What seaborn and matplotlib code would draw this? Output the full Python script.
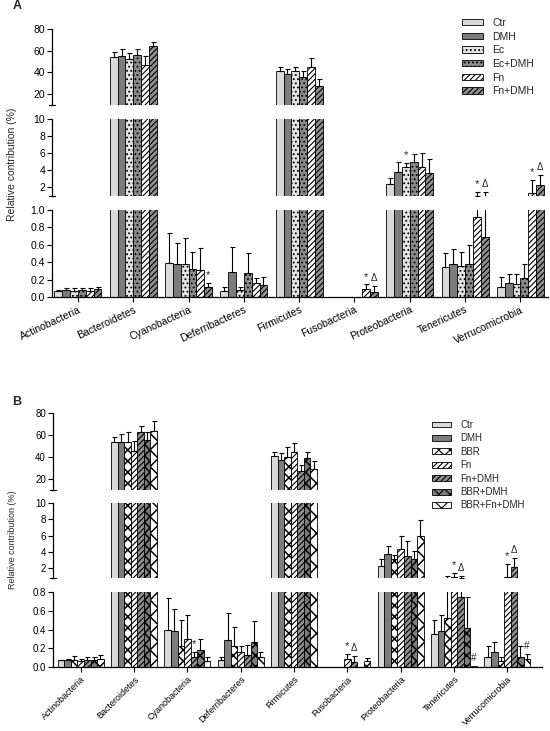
import numpy as np
import pandas as pd
import matplotlib
matplotlib.use("Agg")
import matplotlib.pyplot as plt
import seaborn as sns
from matplotlib.patches import Patch

sns.set_theme(style="white")
plt.rcParams["font.family"] = ["Liberation Sans", "DejaVu Sans"]
plt.rcParams["hatch.linewidth"] = 0.8

# ---------------- data ----------------
phyla = ["Actinobacteria", "Bacteroidetes", "Cyanobacteria", "Deferribacteres",
         "Firmicutes", "Fusobacteria", "Proteobacteria", "Tenericutes", "Verrucomicrobia"]

# Panel A
groups_a = ["Ctr", "DMH", "Ec", "Ec+DMH", "Fn", "Fn+DMH"]
a_ctr = [0.07, 54.0, 0.39, 0.07, 41.2, 0.0, 2.4, 0.35, 0.11]
a_dmh = [0.08, 55.1, 0.375, 0.29, 38.1, 0.0, 3.8, 0.38, 0.16]
a_ec = [0.07, 52.3, 0.38, 0.08, 41.2, 0.0, 4.3, 0.36, 0.15]
a_ecdmh = [0.08, 56.3, 0.32, 0.28, 35.9, 0.0, 5.0, 0.38, 0.22]
a_fn = [0.07, 46.5, 0.31, 0.165, 45.2, 0.095, 4.4, 0.92, 1.25]
a_fndmh = [0.09, 63.8, 0.12, 0.14, 27.2, 0.06, 3.6, 0.69, 2.2]

a_ctr_err = [0.01, 4.8, 0.35, 0.04, 4.0, 0.0, 0.7, 0.15, 0.12]
a_dmh_err = [0.02, 6.2, 0.245, 0.29, 5.2, 0.0, 1.1, 0.17, 0.11]
a_ec_err = [0.03, 5.3, 0.30, 0.04, 4.0, 0.0, 0.5, 0.16, 0.12]
a_ecdmh_err = [0.02, 5.3, 0.20, 0.22, 5.3, 0.0, 0.85, 0.22, 0.16]
a_fn_err = [0.03, 8.9, 0.25, 0.055, 7.8, 0.05, 1.6, 0.55, 1.55]
a_fndmh_err = [0.03, 4.6, 0.045, 0.09, 6.2, 0.07, 1.7, 0.72, 1.2]

a_marks = [("Cyanobacteria", "Fn+DMH", "*"), ("Proteobacteria", "Ec", "*"),
           ("Fusobacteria", "Fn", "*"), ("Fusobacteria", "Fn+DMH", "Δ"),
           ("Tenericutes", "Fn", "*"), ("Tenericutes", "Fn+DMH", "Δ"),
           ("Verrucomicrobia", "Fn", "*"), ("Verrucomicrobia", "Fn+DMH", "Δ")]

# Panel B
groups_b = ["Ctr", "DMH", "BBR", "Fn", "Fn+DMH", "BBR+DMH", "BBR+Fn+DMH"]
b_ctr = [0.07, 54.0, 0.39, 0.07, 40.9, 0.0, 2.25, 0.35, 0.11]
b_dmh = [0.08, 54.0, 0.38, 0.29, 37.3, 0.0, 3.7, 0.38, 0.165]
b_bbr = [0.07, 54.0, 0.22, 0.22, 40.3, 0.0, 3.1, 0.52, 0.06]
b_fn = [0.06, 45.7, 0.30, 0.16, 44.8, 0.09, 4.3, 0.9, 0.95]
b_fndmh = [0.08, 63.0, 0.11, 0.13, 27.0, 0.05, 3.5, 0.75, 2.1]
b_bbrdmh = [0.08, 55.5, 0.18, 0.27, 39.4, 0.0, 3.1, 0.42, 0.11]
b_bbrfndmh = [0.09, 64.0, 0.06, 0.11, 29.0, 0.06, 5.9, 0.01, 0.085]

b_ctr_err = [0.01, 4.6, 0.35, 0.04, 3.9, 0.0, 0.85, 0.15, 0.11]
b_dmh_err = [0.01, 6.9, 0.24, 0.29, 6.1, 0.0, 1.0, 0.17, 0.105]
b_bbr_err = [0.05, 9.0, 0.28, 0.21, 8.5, 0.0, 0.5, 0.53, 0.05]
b_fn_err = [0.03, 9.1, 0.26, 0.06, 8.2, 0.05, 1.7, 0.5, 1.55]
b_fndmh_err = [0.03, 5.5, 0.055, 0.10, 5.7, 0.07, 1.8, 0.3, 1.2]
b_bbrdmh_err = [0.03, 7.5, 0.12, 0.22, 5.4, 0.0, 1.0, 0.33, 0.11]
b_bbrfndmh_err = [0.04, 8.7, 0.05, 0.05, 7.4, 0.035, 2.0, 0.0, 0.055]

b_marks = [("Cyanobacteria", "Fn+DMH", "*"),
           ("Fusobacteria", "Fn", "*"), ("Fusobacteria", "Fn+DMH", "Δ"),
           ("Tenericutes", "Fn", "*"), ("Tenericutes", "Fn+DMH", "Δ"),
           ("Tenericutes", "BBR+Fn+DMH", "#"),
           ("Verrucomicrobia", "Fn", "*"), ("Verrucomicrobia", "Fn+DMH", "Δ"),
           ("Verrucomicrobia", "BBR+Fn+DMH", "#")]

# ---------------- styles ----------------
styles_a = [("#dadada", None), ("#7c7c7c", None), ("#e4e4e4", "...."),
            ("#8a8a8a", "...."), ("#ffffff", "//////"), ("#909090", "//////")]
styles_b = [("#dadada", None), ("#7c7c7c", None), ("#ffffff", "xxx"),
            ("#ffffff", "//////"), ("#909090", "//////"), ("#7c7c7c", "xxx"),
            ("#ffffff", "xx")]

W, H = 550, 731
fig = plt.figure(figsize=(W / 100, H / 100), dpi=100)


def style_patch(p, hatch):
    if hatch:
        p.set_hatch(hatch)
        if "x" in hatch and hasattr(p, "set_hatch_linewidth"):
            p.set_hatch_linewidth(1.1)


def draw_panel(means, errs, groups, styles, marks, segs, xlim, xpix, fs_y, fs_x, rot, width):
    df = pd.DataFrame({
        "phylum": np.tile(phyla, len(groups)),
        "group": np.repeat(groups, len(phyla)),
        "value": np.concatenate(means),
    })
    left, right = xpix
    axes = []
    for k, (ylo, yhi, ptop, pbot, ticks, labels) in enumerate(segs):
        ax = fig.add_axes([left / W, 1 - pbot / H, (right - left) / W, (pbot - ptop) / H])
        sns.barplot(data=df, x="phylum", y="value", hue="group", order=phyla,
                    hue_order=groups, palette=[s[0] for s in styles], saturation=1,
                    errorbar=None, width=width, edgecolor="black", linewidth=0.6,
                    ax=ax, legend=False)
        conts = list(ax.containers)[:len(groups)]
        bottom_seg = (k == len(segs) - 1)
        for ci, cont in enumerate(conts):
            xs, ys, es = [], [], []
            for j, bar in enumerate(cont):
                style_patch(bar, styles[ci][1])
                # only draw error bars that reach into this segment
                if errs[ci][j] > 0 and means[ci][j] + errs[ci][j] > ylo:
                    xs.append(bar.get_x() + bar.get_width() / 2)
                    ys.append(bar.get_height())
                    es.append(errs[ci][j])
            if xs:
                es = np.array(es)
                ax.errorbar(xs, ys, yerr=[np.zeros_like(es), es], fmt="none",
                            ecolor="black", elinewidth=0.8, capsize=1.8, capthick=0.8)
        # significance marks
        for ph, gr, sym in marks:
            ci = groups.index(gr)
            j = phyla.index(ph)
            bar = conts[ci][j]
            top = means[ci][j] + errs[ci][j]
            if ylo <= top < yhi:
                ax.annotate(sym, (bar.get_x() + bar.get_width() / 2, top),
                            xytext=(0, 2), textcoords="offset points",
                            ha="center", va="bottom",
                            fontsize=8 if sym == "*" else 7)
        ax.set_xlim(*xlim)
        ax.set_ylim(ylo, yhi)
        ax.set_yticks(ticks)
        ax.set_yticklabels(labels)
        ax.set_xlabel("")
        ax.set_ylabel("")
        ax.tick_params(axis="y", left=True, direction="out", length=3.5, width=0.8,
                       labelsize=fs_y, pad=1.5, colors="black")
        for s in ["top", "right"]:
            ax.spines[s].set_visible(False)
        ax.spines["left"].set_linewidth(0.9)
        ax.spines["left"].set_color("black")
        if bottom_seg:
            ax.spines["bottom"].set_linewidth(0.9)
            ax.spines["bottom"].set_color("black")
            ax.set_xticks(range(len(phyla)))
            ax.set_xticklabels(phyla, rotation=rot, ha="right", rotation_mode="anchor",
                               fontsize=fs_x)
            ax.tick_params(axis="x", bottom=True, direction="out", length=3.5,
                           width=0.8, pad=2, colors="black")
        else:
            ax.spines["bottom"].set_visible(False)
            ax.set_xticks([])
            ax.plot([-0.007, 0.007], [0, 0], transform=ax.transAxes, color="black",
                    lw=0.9, clip_on=False)
        ax.set_facecolor("none")
        axes.append(ax)
    return axes


segs_a = [
    (10, 80, 29, 104.5, [20, 40, 60, 80], ["20", "40", "60", "80"]),
    (1, 10, 119, 195.5, [2, 4, 6, 8, 10], ["2", "4", "6", "8", "10"]),
    (0, 1.0, 210, 297, [0, 0.2, 0.4, 0.6, 0.8, 1.0],
     ["0.0", "0.2", "0.4", "0.6", "0.8", "1.0"]),
]
draw_panel([a_ctr, a_dmh, a_ec, a_ecdmh, a_fn, a_fndmh],
           [a_ctr_err, a_dmh_err, a_ec_err, a_ecdmh_err, a_fn_err, a_fndmh_err],
           groups_a, styles_a, a_marks, segs_a, (-0.47, 8.5), (52, 548),
           7.5, 7.5, 25, 0.85)

segs_b = [
    (10, 80, 413, 490, [20, 40, 60, 80], ["20", "40", "60", "80"]),
    (0.85, 10, 503, 577.5, [2, 4, 6, 8, 10], ["2", "4", "6", "8", "10"]),
    (0, 0.8, 592, 667, [0, 0.2, 0.4, 0.6, 0.8], ["0.0", "0.2", "0.4", "0.6", "0.8"]),
]
draw_panel([b_ctr, b_dmh, b_bbr, b_fn, b_fndmh, b_bbrdmh, b_bbrfndmh],
           [b_ctr_err, b_dmh_err, b_bbr_err, b_fn_err, b_fndmh_err, b_bbrdmh_err,
            b_bbrfndmh_err],
           groups_b, styles_b, b_marks, segs_b, (-0.52, 8.65), (53, 542),
           7, 6.5, 45, 0.86)

# legends
def legend(groups, styles, x, y, fs):
    handles = []
    for g, s in zip(groups, styles):
        p = Patch(facecolor=s[0], edgecolor="black", linewidth=0.6, label=g)
        style_patch(p, s[1])
        handles.append(p)
    fig.legend(handles=handles, loc="upper left", bbox_to_anchor=(x / W, 1 - y / H),
               frameon=False, fontsize=fs, handlelength=2.0, handleheight=0.55,
               handletextpad=0.9, labelspacing=0.35, borderpad=0, borderaxespad=0)

legend(groups_a, styles_a, 462, 18, 7.5)
legend(groups_b, styles_b, 432, 420, 7)

fig.text(12 / W, 1 - 164 / H, "Relative contribution (%)", rotation=90,
         ha="center", va="center", fontsize=7.5)
fig.text(13 / W, 1 - 540 / H, "Relative contribution (%)", rotation=90,
         ha="center", va="center", fontsize=6.5)
fig.text(17 / W, 1 - 6 / H, "A", ha="center", va="center", fontsize=9, fontweight="bold")
fig.text(17 / W, 1 - 402 / H, "B", ha="center", va="center", fontsize=9, fontweight="bold")

fig.savefig("out.png", dpi=100, facecolor="white")
